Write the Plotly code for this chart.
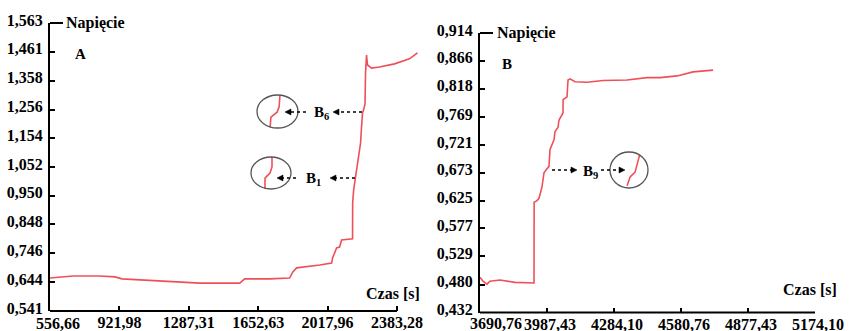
import plotly.graph_objects as go

W, H = 851, 331

# ---------------- data ----------------
# Panel A
a_time = [556.66, 677.5, 819.5, 898.3, 935.1, 1066.5, 1240.0, 1345.1, 1555.4, 1581.6,
          1713.0, 1818.2, 1833.9, 1855.0, 1975.9, 2039.0, 2044.2, 2054.7, 2065.2, 2081.0,
          2091.5, 2149.3, 2149.8, 2155.0, 2159.8, 2165.1, 2170.4, 2186.1, 2191.4, 2196.6,
          2201.9, 2207.1, 2215.0, 2217.6, 2222.9, 2228.2, 2249.2, 2291.2, 2370.1, 2449.0, 2491.0]
a_volt = [0.658, 0.665, 0.665, 0.662, 0.655, 0.651, 0.644, 0.640, 0.640, 0.655,
          0.655, 0.658, 0.679, 0.694, 0.704, 0.711, 0.729, 0.747, 0.765, 0.768,
          0.793, 0.797, 0.924, 0.970, 1.006, 1.017, 1.041, 1.112, 1.137, 1.194,
          1.244, 1.254, 1.276, 1.386, 1.449, 1.414, 1.403, 1.407, 1.418, 1.436, 1.457]

# Panel B
b_time = [3690.76, 3704.0, 3721.8, 3735.0, 3779.3, 3845.8, 3929.9, 3930.5, 3943.2, 3952.1,
          3965.4, 3974.2, 3987.5, 3996.3, 4000.8, 4009.6, 4018.5, 4022.9, 4036.2, 4040.6,
          4058.3, 4058.8, 4076.1, 4080.5, 4089.4, 4111.5, 4164.6, 4235.5, 4341.8, 4430.4,
          4488.0, 4563.2, 4634.1, 4722.7]
b_volt = [0.493, 0.486, 0.481, 0.486, 0.488, 0.484, 0.483, 0.622, 0.625, 0.629,
          0.649, 0.673, 0.680, 0.684, 0.713, 0.721, 0.730, 0.744, 0.751, 0.764,
          0.776, 0.799, 0.804, 0.833, 0.835, 0.830, 0.829, 0.832, 0.833, 0.837,
          0.837, 0.840, 0.847, 0.850]

# tick labels
a_xticks = ["556,66", "921,98", "1287,31", "1652,63", "2017,96", "2383,28"]
a_yticks = ["0,541", "0,644", "0,746", "0,848", "0,950", "1,052", "1,154", "1,256", "1,358", "1,461", "1,563"]
b_xticks = ["3690,76", "3987,43", "4284,10", "4580,76", "4877,43", "5174,10"]
b_yticks = ["0,432", "0,480", "0,529", "0,577", "0,625", "0,673", "0,721", "0,769", "0,818", "0,866", "0,914"]

# magnified inset sketches (normalised inside each circle)
b1_u = [0.35, 0.35, 0.475, 0.525, 0.525]
b1_w = [0.0, 0.34, 0.50, 0.69, 1.0]
b6_u = [0.32, 0.34, 0.49, 0.54, 0.56]
b6_w = [0.03, 0.33, 0.48, 0.64, 1.0]
b9_u = [0.45, 0.53, 0.66, 0.74, 0.78]
b9_w = [0.06, 0.31, 0.44, 0.72, 0.92]


def val(s):
    return float(s.replace(",", "."))


def fx(p):
    return p / W


def fy(p):
    return 1 - p / H


RED = "#ef5058"
FONT = "Liberation Serif"
tfont = dict(family=FONT, size=16, color="black", weight="bold")

fig = go.Figure()
fig.add_trace(go.Scatter(x=a_time, y=a_volt, mode="lines", line=dict(color=RED, width=1.6),
                         xaxis="x", yaxis="y", showlegend=False))
fig.add_trace(go.Scatter(x=b_time, y=b_volt, mode="lines", line=dict(color=RED, width=1.6),
                         xaxis="x2", yaxis="y2", showlegend=False))
for i, (u, w) in enumerate([(b1_u, b1_w), (b6_u, b6_w), (b9_u, b9_w)]):
    fig.add_trace(go.Scatter(x=u, y=w, mode="lines", line=dict(color=RED, width=1.6),
                             xaxis=f"x{i+3}", yaxis=f"y{i+3}", showlegend=False))

# geometry in pixels
A_L, A_R, A_AX_END, A_TOP, A_BOT = 50, 420, 397, 23, 311
B_L, B_R, B_TOP, B_BOT = 480, 815, 33, 312.5

a_x0 = val(a_xticks[0]); a_x1 = val(a_xticks[-1])
a_range_end = a_x0 + (a_x1 - a_x0) * (A_R - A_L) / (A_AX_END - A_L)
b_x0 = val(b_xticks[0]); b_x1 = val(b_xticks[-1])

common_x = dict(showgrid=False, zeroline=False, ticks="inside", ticklen=5, tickwidth=2, showline=False,
                tickcolor="black", tickfont=tfont, automargin=False, fixedrange=True)
common_y = dict(showgrid=False, zeroline=False, ticks="inside", ticklen=5, tickwidth=2,
                tickcolor="black", tickfont=tfont, automargin=False, showline=True,
                linecolor="black", linewidth=2, ticklabelstandoff=2, ticklabelshift=-3)

hidden = dict(visible=False, range=[0, 1], fixedrange=True)


def inset_dom(cx, cy, rx, ry):
    return [fx(cx - rx), fx(cx + rx)], [fy(cy + ry), fy(cy - ry)]


b1_dx, b1_dy = inset_dom(271, 173, 20, 16)
b6_dx, b6_dy = inset_dom(277.5, 111.5, 20.5, 16.5)
b9_dx, b9_dy = inset_dom(629, 170, 19, 18)

# first x label of each panel is drawn as an annotation (offset right, as in the reference)
a_xtext = [""] + a_xticks[1:]
b_xtext = [""] + b_xticks[1:]

fig.update_layout(
    width=W, height=H, margin=dict(l=0, r=0, t=0, b=0),
    template="none", paper_bgcolor="white", plot_bgcolor="rgba(0,0,0,0)",
    xaxis=dict(domain=[fx(A_L), fx(A_R)], range=[a_x0, a_range_end],
               tickvals=[val(t) for t in a_xticks], ticktext=a_xtext, anchor="y", **common_x),
    yaxis=dict(domain=[fy(A_BOT), fy(A_TOP)], range=[val(a_yticks[0]), val(a_yticks[-1])],
               tickvals=[val(t) for t in a_yticks], ticktext=a_yticks, anchor="x", **common_y),
    xaxis2=dict(domain=[fx(B_L), fx(B_R)], range=[b_x0, b_x1], ticklabelshift=3,
                tickvals=[val(t) for t in b_xticks], ticktext=b_xtext, anchor="y2", **common_x),
    yaxis2=dict(domain=[fy(B_BOT), fy(B_TOP)], range=[val(b_yticks[0]), val(b_yticks[-1])],
                tickvals=[val(t) for t in b_yticks], ticktext=b_yticks, anchor="x2", **common_y),
    xaxis3=dict(domain=b1_dx, anchor="y3", **hidden), yaxis3=dict(domain=b1_dy, anchor="x3", **hidden),
    xaxis4=dict(domain=b6_dx, anchor="y4", **hidden), yaxis4=dict(domain=b6_dy, anchor="x4", **hidden),
    xaxis5=dict(domain=b9_dx, anchor="y5", **hidden), yaxis5=dict(domain=b9_dy, anchor="x5", **hidden),
)

shapes = []
# x-axis lines (ending at last tick)
shapes.append(dict(type="line", xref="x", yref="y domain", x0=a_x0, x1=a_x1, y0=0, y1=0,
                   line=dict(color="black", width=2)))
shapes.append(dict(type="line", xref="x2", yref="y2 domain", x0=b_x0, x1=b_x1, y0=0, y1=0,
                   line=dict(color="black", width=2)))
# top ticks joining "Napięcie"
shapes.append(dict(type="line", xref="paper", yref="paper", x0=fx(A_L), x1=fx(A_L + 13),
                   y0=fy(A_TOP), y1=fy(A_TOP), line=dict(color="black", width=2)))
shapes.append(dict(type="line", xref="paper", yref="paper", x0=fx(B_L), x1=fx(B_L + 13),
                   y0=fy(B_TOP), y1=fy(B_TOP), line=dict(color="black", width=2)))
# circles
for ax in ["x3", "x4", "x5"]:
    ay = ax.replace("x", "y")
    shapes.append(dict(type="circle", xref=f"{ax} domain", yref=f"{ay} domain", x0=0, x1=1, y0=0, y1=1,
                       line=dict(color="#555555", width=1.3)))


def dotted(x0, x1, y):
    shapes.append(dict(type="line", xref="paper", yref="paper", x0=fx(x0), x1=fx(x1), y0=fy(y), y1=fy(y),
                       line=dict(color="black", width=1.3, dash="dot")))


def head(x, y, direction):
    L, h = 6, 3
    xb = x - direction * L
    path = f"M {fx(x)},{fy(y)} L {fx(xb)},{fy(y - h)} L {fx(xb)},{fy(y + h)} Z"
    shapes.append(dict(type="path", xref="paper", yref="paper", path=path,
                       fillcolor="black", line=dict(color="black", width=0.5)))


# B6 arrows (pointing left)
dotted(362, 339, 112); head(333, 112, -1)
dotted(306, 291, 112); head(285, 112, -1)
# B1 arrows (pointing left)
dotted(355, 336, 178); head(330, 178, -1)
dotted(296, 283, 178); head(277, 178, -1)
# B9 arrows (pointing right)
dotted(552, 571, 170); head(577, 170, 1)
dotted(601, 619, 170); head(625, 170, 1)

fig.update_layout(shapes=shapes)

ann = []


def text(t, x, y, xanchor="center", size=16):
    ann.append(dict(text=t, x=fx(x), y=fy(y), xref="paper", yref="paper", showarrow=False,
                    xanchor=xanchor, yanchor="middle",
                    font=dict(family=FONT, size=size, color="black", weight="bold")))


text("Napięcie", 64, A_TOP, "left")
text("Napięcie", 495, B_TOP, "left")
text("A", 80, 54, size=15)
text("B", 507, 64, size=15)
text("Czas [s]", 393, 293)
text("Czas [s]", 810, 289)
text("B<sub>6</sub>", 321, 113, size=15)
text("B<sub>1</sub>", 313, 179, size=15)
text("B<sub>9</sub>", 590, 172, size=15)
text(a_xticks[0], 58, 323)
text(b_xticks[0], 496, 323)

fig.update_layout(annotations=ann)

fig.write_html("out.html")
